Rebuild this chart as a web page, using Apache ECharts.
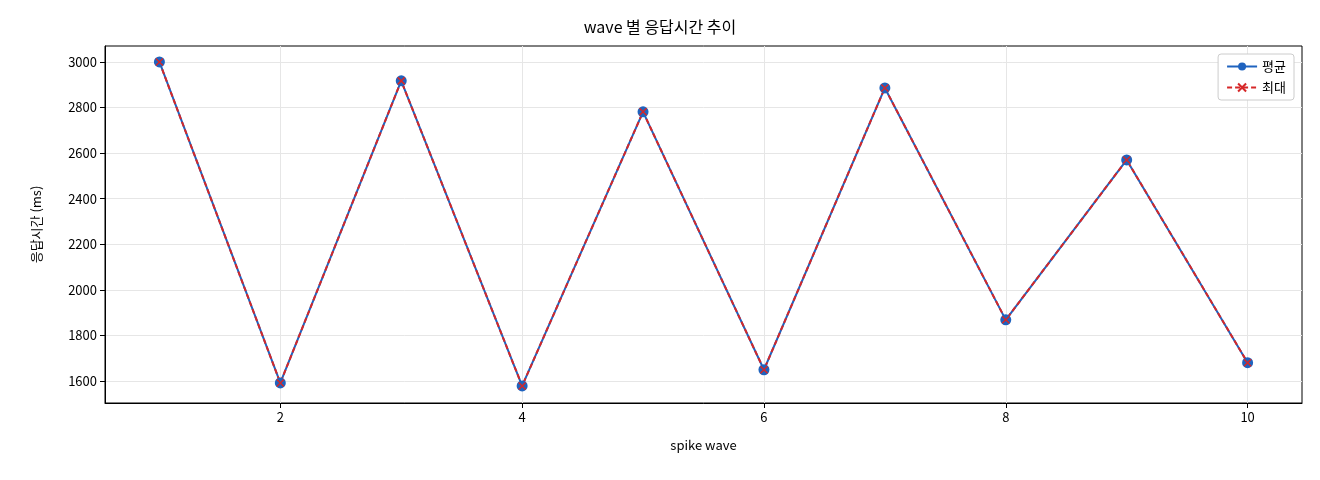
<!DOCTYPE html>
<html><head><meta charset="utf-8">
<script src="https://cdn.jsdelivr.net/npm/echarts@6/dist/echarts.min.js"></script>
<style>html,body{margin:0;padding:0;background:#fff}#c{width:1320px;height:480px}</style>
</head><body><div id="c"></div>
<script>
const waves = [1,2,3,4,5,6,7,8,9,10];
const avgValues = [3000,1591,2917,1578,2781,1649,2886,1868,2570,1680];
const maxValues = [3000,1591,2917,1578,2781,1649,2886,1868,2570,1680];
const yTicks = [1600,1800,2000,2200,2400,2600,2800,3000];
const xTicks = [2,4,6,8,10];
const font = '"Noto Sans CJK KR", "DejaVu Sans", sans-serif';
const chart = echarts.init(document.getElementById('c'));
chart.setOption({
  animation:false,
  textStyle:{fontFamily:font},
  title:{text:'wave 별 응답시간 추이',left:'center',top:14,textStyle:{fontSize:16,fontWeight:'normal',color:'#000',fontFamily:font}},
  grid:{left:105,right:18,top:46,bottom:77,show:true,borderColor:'#000',borderWidth:1,backgroundColor:'transparent'},
  legend:{right:26,top:54,orient:'vertical',itemGap:8,backgroundColor:'#fff',borderColor:'#ccc',borderWidth:1,borderRadius:3,padding:[6,8],
    textStyle:{fontSize:13,color:'#000'},itemWidth:30,itemHeight:10,
    data:[{name:'평균'},{name:'최대'}]},
  xAxis:{type:'value',min:0.55,max:10.45,name:'spike wave',nameLocation:'middle',nameGap:36,
    nameTextStyle:{fontSize:13,color:'#000'},
    axisLine:{lineStyle:{color:'#000'}},
    axisTick:{customValues:xTicks,lineStyle:{color:'#000'}},
    axisLabel:{customValues:xTicks,color:'#000',fontSize:13,formatter:v=>String(v)},
    splitLine:{show:true,lineStyle:{color:'#e6e6e6'}}},
  yAxis:{type:'value',min:1503,max:3070,name:'응답시간 (ms)',nameLocation:'middle',nameGap:62,
    nameTextStyle:{fontSize:13,color:'#000'},
    axisLine:{show:true,lineStyle:{color:'#000'}},
    axisTick:{show:true,customValues:yTicks,lineStyle:{color:'#000'}},
    axisLabel:{customValues:yTicks,color:'#000',fontSize:13,formatter:v=>String(v)},
    splitLine:{show:true,lineStyle:{color:'#e6e6e6'}}},
  series:[
    {name:'평균',type:'line',data:waves.map((w,i)=>[w,avgValues[i]]),symbol:'circle',symbolSize:11,
      lineStyle:{color:'#1f63bf',width:2},itemStyle:{color:'#1f63bf'}},
    {name:'최대',type:'line',data:waves.map((w,i)=>[w,maxValues[i]]),
      symbol:'path://M0,0L10,10M10,0L0,10',symbolSize:7,
      lineStyle:{color:'#d62728',width:2,type:[5,3]},itemStyle:{color:'#d62728',borderColor:'#d62728',borderWidth:1.5}}
  ]
});
</script></body></html>
